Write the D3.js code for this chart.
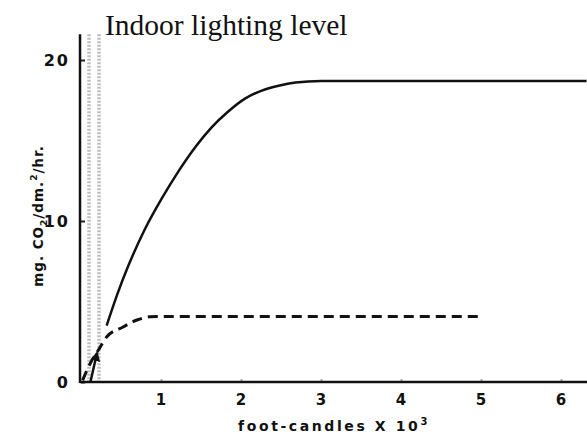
<!DOCTYPE html>
<html lang="en">
<head>
<meta charset="UTF-8">
<title>Indoor lighting level</title>
<style>
  body { margin: 0; background: #fff; }
  svg { display: block; }
</style>
</head>
<body>
<div id="graph"></div>
<script src="https://d3js.org/d3.v7.min.js"></script>
<script>
// values
const xTicks = [1, 2, 3, 4, 5, 6];
const yTicks = [0, 10, 20];

// solid curve
const solidX = [0.32, 0.45, 0.59, 0.80, 1.01, 1.22, 1.43, 1.63, 1.84, 2.05, 2.26, 2.47, 2.68, 3.0, 6.32];
const solidY = [3.5, 5.4, 7.2, 9.5, 11.4, 13.1, 14.6, 15.8, 16.8, 17.6, 18.1, 18.4, 18.6, 18.7, 18.7];

// dashed curve
const dashX = [0.02, 0.12, 0.22, 0.32, 0.52, 0.70, 0.86, 1.0, 5.0];
const dashY = [0.1, 1.2, 2.0, 2.8, 3.4, 3.85, 4.05, 4.07, 4.07];

// shaded band (two dotted lines) and the little arrow
const bandX = [0.10, 0.225];
const arrowX = [0.12, 0.20];
const arrowY = [0.05, 1.8];

const W = 587, H = 436;
const X0 = 81, X6 = 561;     // pixel of x=0 and x=6
const Y0 = 382, Y20 = 60;    // pixel of y=0 and y=20
const Y_TOP = 21.6;

const x = d3.scaleLinear().domain([0, 6]).range([X0, X6]);
const y = d3.scaleLinear().domain([0, 20]).range([Y0, Y20]);

const svg = d3.select("#graph").append("svg")
  .attr("width", W).attr("height", H);

svg.append("defs").append("marker")
  .attr("id", "head")
  .attr("viewBox", "0 0 10 10")
  .attr("refX", 8).attr("refY", 5)
  .attr("markerWidth", 4).attr("markerHeight", 4)
  .attr("orient", "auto")
  .append("path").attr("d", "M0,0L10,5L0,10z").attr("fill", "#111");

// band
svg.selectAll(".band").data(bandX).enter().append("line")
  .attr("class", "band")
  .attr("x1", d => x(d)).attr("x2", d => x(d))
  .attr("y1", y(Y_TOP)).attr("y2", y(0))
  .attr("stroke", "#bdbdbd").attr("stroke-width", 3.5)
  .attr("stroke-dasharray", "2,1.5");

// axes
const xAxis = svg.append("g")
  .attr("transform", `translate(0,${y(0)})`)
  .call(d3.axisTop(x).tickValues(xTicks).tickSize(3).tickFormat(""));
xAxis.select(".domain").remove();
xAxis.selectAll("line").attr("stroke", "#aaa").attr("stroke-width", 2);

const yAxis = svg.append("g")
  .attr("transform", `translate(${x(0)},0)`)
  .call(d3.axisRight(y).tickValues(yTicks).tickSize(4).tickFormat(""));
yAxis.select(".domain").remove();
yAxis.selectAll("line").attr("stroke", "#222").attr("stroke-width", 2);

svg.append("line")
  .attr("x1", x(0) - 1).attr("x2", W)
  .attr("y1", y(0)).attr("y2", y(0))
  .attr("stroke", "#111").attr("stroke-width", 2.5);
svg.append("line")
  .attr("x1", x(0) - 1).attr("x2", x(0) - 1)
  .attr("y1", y(Y_TOP)).attr("y2", y(0) + 1)
  .attr("stroke", "#111").attr("stroke-width", 2.5);

// tick labels
svg.selectAll(".xt").data(xTicks).enter().append("text")
  .attr("class", "xt")
  .attr("x", d => x(d)).attr("y", 405)
  .attr("text-anchor", "middle")
  .attr("font-family", "DejaVu Sans").attr("font-weight", "bold")
  .attr("font-size", 15).attr("fill", "#111")
  .text(d => d);

svg.selectAll(".yt").data(yTicks).enter().append("text")
  .attr("class", "yt")
  .attr("x", 70).attr("y", d => y(d) + 6)
  .attr("text-anchor", "end")
  .attr("font-family", "DejaVu Sans").attr("font-weight", "bold")
  .attr("font-size", 16).attr("letter-spacing", 2).attr("fill", "#111")
  .text(d => d);

// curves
const line = d3.line().x(d => x(d[0])).y(d => y(d[1])).curve(d3.curveMonotoneX);

svg.append("path")
  .datum(d3.zip(solidX, solidY))
  .attr("d", line)
  .attr("fill", "none").attr("stroke", "#111").attr("stroke-width", 2.5);

svg.append("path")
  .datum(d3.zip(dashX, dashY))
  .attr("d", line)
  .attr("fill", "none").attr("stroke", "#111").attr("stroke-width", 3)
  .attr("stroke-dasharray", "10,6");

svg.append("line")
  .attr("x1", x(arrowX[0])).attr("y1", y(arrowY[0]))
  .attr("x2", x(arrowX[1])).attr("y2", y(arrowY[1]))
  .attr("stroke", "#111").attr("stroke-width", 2.5)
  .attr("marker-end", "url(#head)");

// title
svg.append("text")
  .attr("x", 105).attr("y", 35)
  .attr("font-family", "Liberation Serif").attr("font-size", 29.5)
  .attr("fill", "#111")
  .text("Indoor lighting level");

// x label
const xl = svg.append("text")
  .attr("x", 334).attr("y", 431)
  .attr("text-anchor", "middle")
  .attr("font-family", "DejaVu Sans").attr("font-weight", "bold")
  .attr("font-size", 14).attr("letter-spacing", 2.6).attr("fill", "#111");
xl.append("tspan").text("foot-candles X 10");
xl.append("tspan").attr("dy", -6).attr("font-size", 10).text("3");

// y label
const yl = svg.append("text")
  .attr("transform", "translate(43,216) rotate(-90)")
  .attr("text-anchor", "middle")
  .attr("font-family", "DejaVu Sans").attr("font-weight", "bold")
  .attr("font-size", 13.5).attr("letter-spacing", 1).attr("fill", "#111");
yl.append("tspan").text("mg. CO");
yl.append("tspan").attr("dy", 4).attr("font-size", 9).text("2");
yl.append("tspan").attr("dy", -4).text("/dm.");
yl.append("tspan").attr("dy", -6).attr("font-size", 9).text("2");
yl.append("tspan").attr("dy", 6).text("/hr.");
</script>
</body>
</html>
